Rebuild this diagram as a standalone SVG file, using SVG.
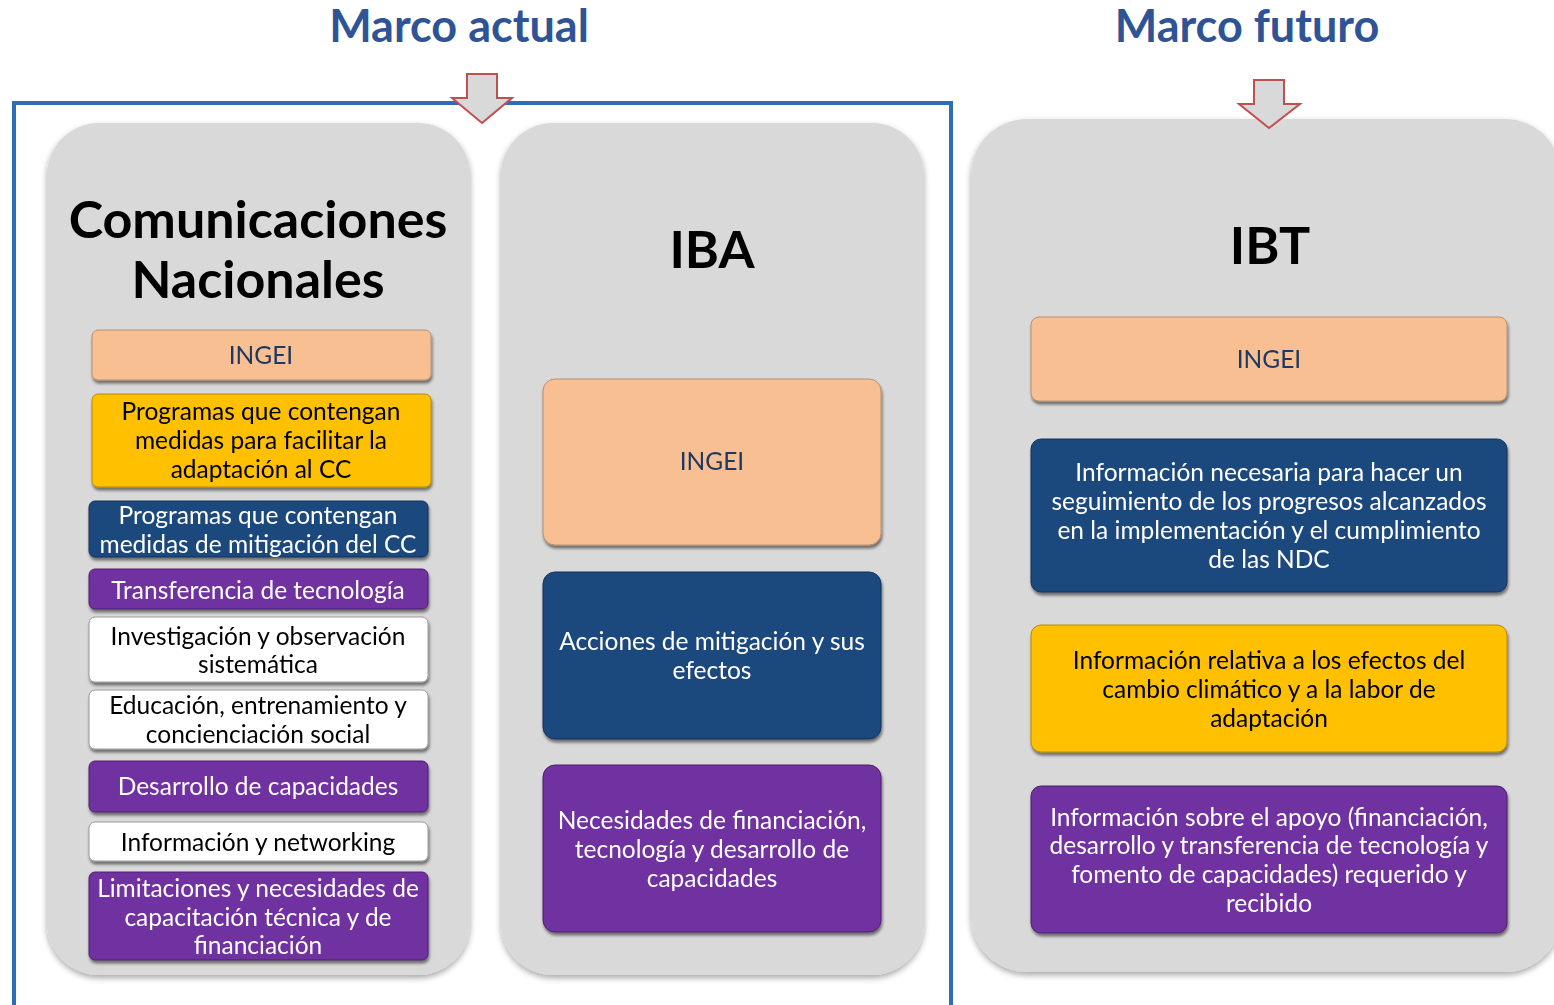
<svg xmlns="http://www.w3.org/2000/svg" width="1554" height="1005" viewBox="0 0 1554 1005">
<defs>
<filter id="psh" x="-10%" y="-10%" width="120%" height="120%">
<feGaussianBlur in="SourceAlpha" stdDeviation="3"/>
<feOffset dx="0" dy="3"/>
<feComponentTransfer><feFuncA type="linear" slope="0.35"/></feComponentTransfer>
<feMerge><feMergeNode/><feMergeNode in="SourceGraphic"/></feMerge>
</filter>
<filter id="bsh" x="-10%" y="-20%" width="120%" height="140%">
<feGaussianBlur in="SourceAlpha" stdDeviation="1.5"/>
<feOffset dx="1" dy="3"/>
<feComponentTransfer><feFuncA type="linear" slope="0.5"/></feComponentTransfer>
<feMerge><feMergeNode/><feMergeNode in="SourceGraphic"/></feMerge>
</filter>
</defs>
<style>
text{font-family:Lato,"Open Sans","Liberation Sans",sans-serif;text-anchor:middle}
.title{font-size:45px;font-weight:bold;fill:#2F5496}
.head{font-size:52px;font-weight:bold;fill:#000}
.panel{fill:#D9D9D9}
.b{font-size:24.5px}
.peach{fill:#F8BF92;stroke:#B89070;stroke-width:1}
.yellow{fill:#FFC000;stroke:#B88A00;stroke-width:1}
.navy{fill:#1F497D;stroke:#15325A;stroke-width:1}
.purple{fill:#7030A0;stroke:#4E2070;stroke-width:1}
.white{fill:#FFFFFF;stroke:#9A9A9A;stroke-width:1}
.tn{fill:#1F3864}
.tk{fill:#000}
.tw{fill:#FFFFFF}
.arrow{fill:#D9D9D9;stroke:#C0504D;stroke-width:2;stroke-linejoin:miter}
</style>
<rect width="1554" height="1005" fill="#FFFFFF"/>

<text class="title" x="459" y="42">Marco actual</text>
<text class="title" x="1247" y="42">Marco futuro</text>

<g id="frame">
<path d="M14 1010 V103 H951 V1010" fill="none" stroke="#2E6DB8" stroke-width="4"/>
</g>

<g id="panel-cn">
<rect class="panel" x="47" y="123" width="423" height="852" rx="52" filter="url(#psh)"/>
<text class="head" x="258" y="238">Comunicaciones</text>
<text class="head" x="258" y="298">Nacionales</text>
</g>
<g id="panel-iba">
<rect class="panel" x="501" y="123" width="423" height="852" rx="52" filter="url(#psh)"/>
<text class="head" x="712" y="268">IBA</text>
</g>
<g id="panel-ibt">
<rect class="panel" x="971" y="119" width="590" height="853" rx="56" filter="url(#psh)"/>
<text class="head" x="1270" y="264">IBT</text>
</g>

<g id="arrows">
<path class="arrow" d="M467 74 H497 V98 H512 L482 123 L452 98 H467 Z"/>
<path class="arrow" d="M1254 80 H1284 V104 H1300 L1269 128 L1239 104 H1254 Z"/>
</g>

<g id="cn-ingei" filter="url(#bsh)">
<rect class="peach" x="92" y="330" width="339" height="50" rx="6"/>
<text class="b tn" x="261" y="364">INGEI</text>
</g>
<g id="cn-adapt" filter="url(#bsh)">
<rect class="yellow" x="92" y="394" width="339" height="93" rx="6"/>
<text class="b tk" x="261" y="420">Programas que contengan</text>
<text class="b tk" x="261" y="449">medidas para facilitar la</text>
<text class="b tk" x="261" y="478">adaptación al CC</text>
</g>
<g id="cn-mitig" filter="url(#bsh)">
<rect class="navy" x="89" y="501" width="339" height="56" rx="6"/>
<text class="b tw" x="258" y="524">Programas que contengan</text>
<text class="b tw" x="258" y="553">medidas de mitigación del CC</text>
</g>
<g id="cn-transf" filter="url(#bsh)">
<rect class="purple" x="89" y="569" width="339" height="40" rx="6"/>
<text class="b tw" x="258" y="599">Transferencia de tecnología</text>
</g>
<g id="cn-invest" filter="url(#bsh)">
<rect class="white" x="89" y="617" width="339" height="65" rx="6"/>
<text class="b tk" x="258" y="645">Investigación y observación</text>
<text class="b tk" x="258" y="673">sistemática</text>
</g>
<g id="cn-educ" filter="url(#bsh)">
<rect class="white" x="89" y="690" width="339" height="59" rx="6"/>
<text class="b tk" x="258" y="714">Educación, entrenamiento y</text>
<text class="b tk" x="258" y="743">concienciación social</text>
</g>
<g id="cn-desarr" filter="url(#bsh)">
<rect class="purple" x="89" y="761" width="339" height="51" rx="6"/>
<text class="b tw" x="258" y="795">Desarrollo de capacidades</text>
</g>
<g id="cn-info" filter="url(#bsh)">
<rect class="white" x="89" y="822" width="339" height="39" rx="6"/>
<text class="b tk" x="258" y="851">Información y networking</text>
</g>
<g id="cn-limit" filter="url(#bsh)">
<rect class="purple" x="89" y="872" width="339" height="88" rx="6"/>
<text class="b tw" x="258" y="897">Limitaciones y necesidades de</text>
<text class="b tw" x="258" y="926">capacitación técnica y de</text>
<text class="b tw" x="258" y="954">financiación</text>
</g>

<g id="iba-ingei" filter="url(#bsh)">
<rect class="peach" x="543" y="379" width="338" height="166" rx="12"/>
<text class="b tn" x="712" y="470">INGEI</text>
</g>
<g id="iba-accion" filter="url(#bsh)">
<rect class="navy" x="543" y="572" width="338" height="167" rx="12"/>
<text class="b tw" x="712" y="650">Acciones de mitigación y sus</text>
<text class="b tw" x="712" y="679">efectos</text>
</g>
<g id="iba-neces" filter="url(#bsh)">
<rect class="purple" x="543" y="765" width="338" height="167" rx="12"/>
<text class="b tw" x="712" y="829">Necesidades de financiación,</text>
<text class="b tw" x="712" y="858">tecnología y desarrollo de</text>
<text class="b tw" x="712" y="887">capacidades</text>
</g>

<g id="ibt-ingei" filter="url(#bsh)">
<rect class="peach" x="1031" y="317" width="476" height="84" rx="8"/>
<text class="b tn" x="1269" y="368">INGEI</text>
</g>
<g id="ibt-seguim" filter="url(#bsh)">
<rect class="navy" x="1031" y="439" width="476" height="153" rx="10"/>
<text class="b tw" x="1269" y="481">Información necesaria para hacer un</text>
<text class="b tw" x="1269" y="510">seguimiento de los progresos alcanzados</text>
<text class="b tw" x="1269" y="539">en la implementación y el cumplimiento</text>
<text class="b tw" x="1269" y="568">de las NDC</text>
</g>
<g id="ibt-efectos" filter="url(#bsh)">
<rect class="yellow" x="1031" y="625" width="476" height="127" rx="10"/>
<text class="b tk" x="1269" y="669">Información relativa a los efectos del</text>
<text class="b tk" x="1269" y="698">cambio climático y a la labor de</text>
<text class="b tk" x="1269" y="727">adaptación</text>
</g>
<g id="ibt-apoyo" filter="url(#bsh)">
<rect class="purple" x="1031" y="786" width="476" height="147" rx="10"/>
<text class="b tw" x="1269" y="826">Información sobre el apoyo (financiación,</text>
<text class="b tw" x="1269" y="854">desarrollo y transferencia de tecnología y</text>
<text class="b tw" x="1269" y="883">fomento de capacidades) requerido y</text>
<text class="b tw" x="1269" y="912">recibido</text>
</g>
</svg>
